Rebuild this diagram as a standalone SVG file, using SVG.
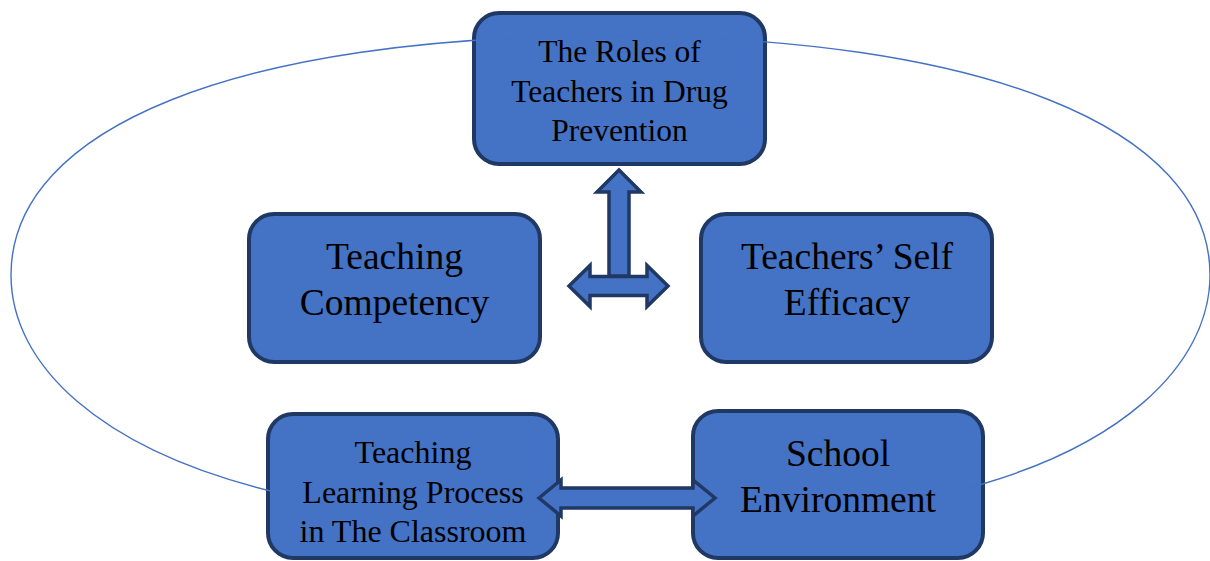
<svg xmlns="http://www.w3.org/2000/svg" width="1210" height="561" viewBox="0 0 1210 561">
<style>
.box{fill:#4472C4;stroke:#203864;stroke-width:4}
.arr{fill:#4472C4;stroke:#203864;stroke-width:3.5;stroke-linejoin:miter}
.t{font-family:"Liberation Serif","Times New Roman",serif;fill:#000;text-anchor:middle}
.s31{font-size:31.5px}
.s32{font-size:32px}
.s37{font-size:37.5px}
.loop{fill:none;stroke:#4472C4;stroke-width:1.4}
</style>
<rect width="1210" height="561" fill="#fff"/>
<g id="node-roles">
<rect class="box" x="474" y="13" width="291" height="151" rx="25"/>
<text class="t s31" x="619.5" y="62">The Roles of</text>
<text class="t s31" x="619.5" y="102">Teachers in Drug</text>
<text class="t s31" x="619.5" y="141">Prevention</text>
</g>
<g id="node-competency">
<rect class="box" x="249" y="214" width="291" height="148" rx="25"/>
<text class="t s37" x="394.5" y="269">Teaching</text>
<text class="t s37" x="394.5" y="315">Competency</text>
</g>
<g id="node-efficacy">
<rect class="box" x="701" y="214" width="291" height="148" rx="25"/>
<text class="t s37" x="847" y="269">Teachers’ Self</text>
<text class="t s37" x="847" y="315">Efficacy</text>
</g>
<g id="node-tlp">
<rect class="box" x="268" y="414" width="290" height="144" rx="25"/>
<text class="t s32" x="413" y="463">Teaching</text>
<text class="t s32" x="413" y="503">Learning Process</text>
<text class="t s32" x="413" y="542">in The Classroom</text>
</g>
<g id="node-school">
<rect class="box" x="693" y="411" width="290" height="147" rx="25"/>
<text class="t s37" x="838" y="466">School</text>
<text class="t s37" x="838" y="512">Environment</text>
</g>
<g id="connectors">
<path class="loop" d="M948,493 C1120,452 1210,365 1210,275 C1210,127 982,36 610,36 C238,36 11,127 11,275 C11,365 100,450 275,492"/>
<polygon class="arr" points="569,286 590,265.5 590,276.5 647,276.5 647,265.5 668,286 647,306.5 647,295.5 590,295.5 590,306.5"/>
<polygon class="arr" points="619,170 641,192 629,192 629,276 609,276 609,192 597,192"/>
<polygon class="arr" points="539,498 561,480 561,488 693,488 693,480 715,498 693,516 693,508 561,508 561,516"/>
</g>
</svg>
